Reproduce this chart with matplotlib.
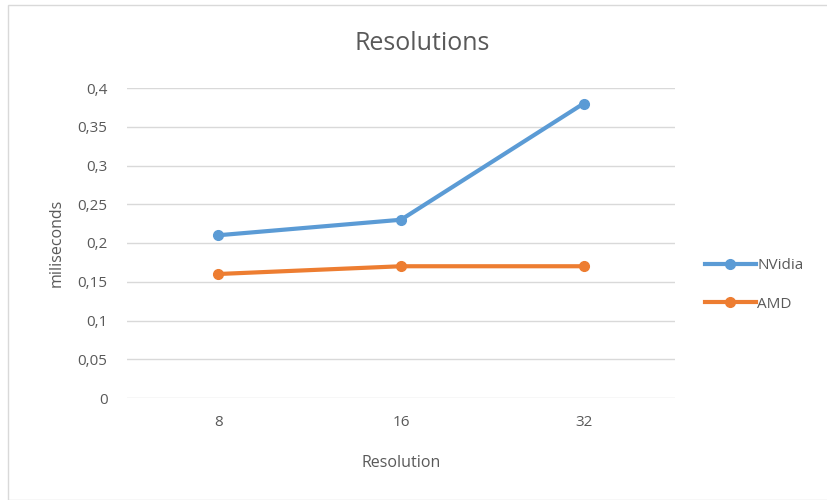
import matplotlib
matplotlib.use("Agg")
import matplotlib.pyplot as plt
from matplotlib.patches import Rectangle

categories = ["8", "16", "32"]
nvidia = [0.21, 0.23, 0.38]
amd = [0.16, 0.17, 0.17]
yticks = [0, 0.05, 0.1, 0.15, 0.2, 0.25, 0.3, 0.35, 0.4]
ytick_labels = ["0", "0,05", "0,1", "0,15", "0,2", "0,25", "0,3", "0,35", "0,4"]

plt.rcParams['font.family'] = ['Open Sans', 'DejaVu Sans']
txt = "#595959"

fig = plt.figure(figsize=(8.27, 5.0), dpi=100)
fig.patches.append(Rectangle((8/827, 0), 1, 1 - 5/500, transform=fig.transFigure,
                             fill=False, edgecolor="#D9D9D9", linewidth=1))
ax = fig.add_axes([127/827, 1 - 398/500, 548/827, 310/500])

x = list(range(len(categories)))
ax.plot(x, nvidia, color="#5B9BD5", lw=3, marker="o", ms=7, label="NVidia", zorder=3)
ax.plot(x, amd, color="#ED7D31", lw=3, marker="o", ms=7, label="AMD", zorder=3)

ax.set_xlim(-0.5, 2.5)
ax.set_ylim(0, 0.4)
ax.set_yticks(yticks)
ax.set_yticklabels(ytick_labels)
ax.set_xticks(x)
ax.set_xticklabels(categories)
ax.grid(axis="y", color="#D9D9D9", lw=1)
ax.set_axisbelow(True)
for s in ax.spines.values():
    s.set_visible(False)
ax.tick_params(length=0, labelsize=11, colors=txt)
ax.tick_params(axis="y", pad=14)
ax.tick_params(axis="x", pad=12)

fig.text(422/827, 1 - 43/500, "Resolutions", fontsize=18, color=txt,
         ha="center", va="center")
ax.set_xlabel("Resolution", fontsize=11.5, color=txt, labelpad=18)
ax.set_ylabel("miliseconds", fontsize=11.5, color=txt, labelpad=9)

ax.legend(loc="center left", bbox_to_anchor=(1.03, 0.365), frameon=False,
          fontsize=11, labelcolor=txt, handlelength=3.3, handletextpad=0.1,
          labelspacing=1.55)

fig.savefig("out.png", dpi=100)
